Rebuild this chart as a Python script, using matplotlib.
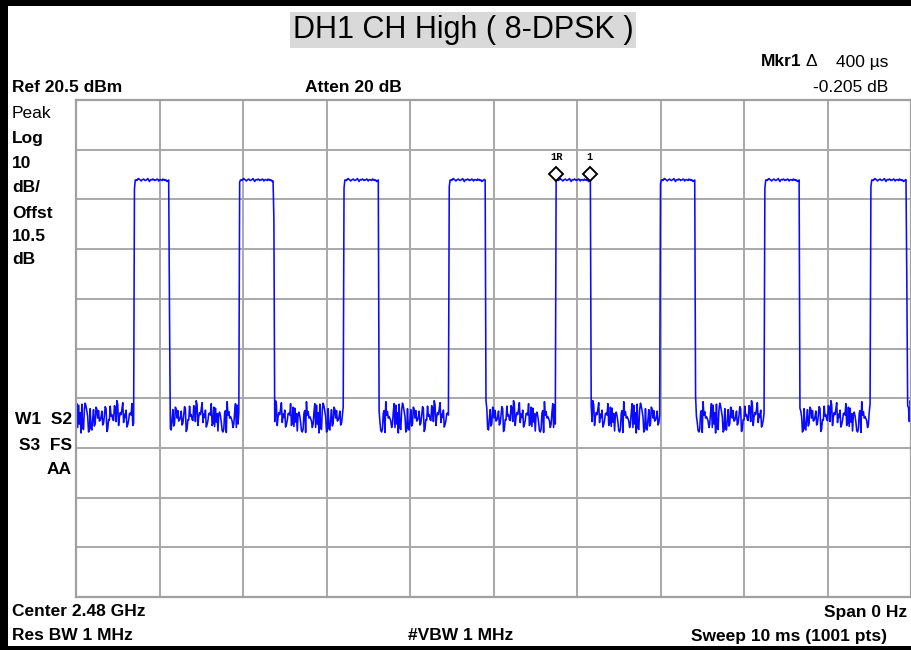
import numpy as np
import matplotlib
matplotlib.use('Agg')
import matplotlib.pyplot as plt
import matplotlib.transforms as mtransforms
from matplotlib.patches import Rectangle

W, H = 912, 650

# sweep setup
ref_level = 20.5
db_per_div = 10
sweep_ms = 10
n_pts = 1001

# burst timing (ms)
rise_ms = [0.70, 1.96, 3.21, 4.47, 5.75, 7.00, 8.25, 9.52]
fall_ms = [1.12, 2.37, 3.63, 4.91, 6.17, 7.42, 8.67, 9.95]
top_dbm = 4.4
rise_step_dbm = [2.6, 4.0, 2.8, 3.0, 4.2, 3.6, 2.7, 3.1]
fall_step_dbm = [-23.0, -3.5, -42.0, -40.0, -41.0, -39.0, -41.5, -16.0]
floor_dbm = -43.5

# ripple on the burst tops (dB)
top_ripple = [0.1, 0.0, 0.0, -0.1, 0.2, 0.3, 0.1, 0.0, -0.2, 0.0, 0.1, 0.2,
              0.0, -0.1, 0.0, 0.1, 0.3, 0.0, -0.3, 0.0, 0.1, 0.0, 0.2, 0.1,
              -0.1, 0.0, 0.0, 0.2, 0.1, -0.2, 0.0, 0.1, 0.0, -0.1, 0.2, 0.0,
              0.1, -0.1, 0.0, -0.3, -0.2, 0.0, 0.1, 0.0]

# noise floor deviation (dB)
floor_noise = [1.2, -1.5, 2.4, 0.3, -2.2, 1.8, -0.6, 2.9, -1.1, 0.4, -2.8, 1.0,
               3.1, -0.4, -1.9, 2.2, 0.7, -2.5, 1.5, -0.9, 0.2, 2.6, -1.7, -0.3,
               1.9, -2.9, 0.8, 1.4, -1.2, 2.0, -0.5, -2.1, 3.3, 0.1, -1.4, 1.1,
               -0.8, 2.5, -2.4, 0.6, 1.6, -1.0, -3.0, 0.9, 2.1, -0.2, 1.3, -1.8,
               0.5, 2.8, -2.6, -0.7, 1.7, 0.0, -1.3, 2.3, -2.0, 0.8, 3.5, -1.6,
               0.3, -0.5, 1.9, -2.3, 1.2, 2.7, -1.1, -0.1, 0.9, -2.7, 1.6, 0.4,
               -1.5, 2.2, -0.6, 1.0, -2.2, 3.0, -0.8, 0.2, 1.8, -1.9, 0.6, -0.3,
               2.4, -2.5, 1.1, 0.0, -1.2, 2.9, -0.4, 1.4, -2.8, 0.7, 1.5]

t = np.linspace(0, sweep_ms, n_pts)
trace = np.array([floor_dbm + floor_noise[(i * 7) % len(floor_noise)]
                  for i in range(n_pts)])
for k, (r, f) in enumerate(zip(rise_ms, fall_ms)):
    i0 = int(round(r / 0.01))
    i1 = int(round(f / 0.01))
    trace[i0] = rise_step_dbm[k]
    for j in range(i0 + 1, i1):
        trace[j] = top_dbm + top_ripple[(j - i0) % len(top_ripple)]
    trace[i1] = fall_step_dbm[k]

# delta marker pair
mkr_ref_ms = 5.75
mkr_delta_ms = 6.15

plt.rcParams['font.family'] = ['Liberation Sans', 'DejaVu Sans']

fig = plt.figure(figsize=(W / 100, H / 100), dpi=100)
fig.patch.set_facecolor('white')


def px(x, y):
    return x / W, 1 - y / H


ax = fig.add_axes([76 / W, 1 - 597 / H, 835 / W, 497 / H])
ax.plot(t, trace, color='#0a0aff', lw=1.15)
ax.set_xlim(0, sweep_ms)
ax.set_ylim(ref_level - 10 * db_per_div, ref_level)
ax.set_xticks(np.arange(0, sweep_ms + 1, 1))
ax.set_yticks(np.arange(ref_level - 10 * db_per_div, ref_level + 1, db_per_div))
ax.tick_params(length=0, labelbottom=False, labelleft=False)
ax.grid(True, color='#a8a8a8', lw=1.4)
ax.set_axisbelow(True)
for s in ax.spines.values():
    s.set_color('#a0a0a0')
    s.set_linewidth(1.6)

# markers sit a little above the trace
mk_off = mtransforms.offset_copy(ax.transData, fig=fig, x=0, y=5, units='points')
lb_off = mtransforms.offset_copy(ax.transData, fig=fig, x=0, y=17, units='points')
for m, lab in [(mkr_ref_ms, '1R'), (mkr_delta_ms, '1')]:
    yv = trace[int(round(m / 0.01))]
    ax.plot([m], [yv], marker='D', ms=7, mfc='white', mec='black', mew=1.4,
            transform=mk_off, clip_on=False)
    ax.text(m, yv, lab, transform=lb_off, ha='center', va='center',
            fontsize=7.5, family=['Liberation Mono', 'DejaVu Sans Mono'],
            fontweight='bold')

# title box
fig.text(*px(463, 30), 'DH1 CH High ( 8-DPSK )', ha='center', va='center',
         fontsize=22, color='black',
         bbox=dict(boxstyle='square,pad=0.1', fc='#d9d9d9', ec='none'))

fs = 12.5
bold = dict(fontweight='bold', fontsize=fs, va='center')
fig.text(*px(802, 62), 'Mkr1', ha='right', **bold)
fig.text(*px(806, 62), 'Δ', ha='left', fontsize=fs, va='center')
fig.text(*px(888, 62), '400 µs', ha='right', fontsize=fs, va='center')
fig.text(*px(12, 88), 'Ref 20.5 dBm', ha='left', **bold)
fig.text(*px(305, 88), 'Atten 20 dB', ha='left', **bold)
fig.text(*px(888, 88), '-0.205 dB', ha='right', fontsize=fs, va='center')

fig.text(*px(12, 113), 'Peak', ha='left', fontsize=fs, va='center')
for lab, y in [('Log', 138), ('10', 163), ('dB/', 188), ('Offst', 213),
               ('10.5', 237), ('dB', 260)]:
    fig.text(*px(12, y), lab, ha='left', **bold)
fig.text(*px(72, 420), 'W1  S2', ha='right', **bold)
fig.text(*px(72, 445), 'S3  FS', ha='right', **bold)
fig.text(*px(72, 469), 'AA', ha='right', **bold)

fig.text(*px(12, 612), 'Center 2.48 GHz', ha='left', **bold)
fig.text(*px(907, 612), 'Span 0 Hz', ha='right', **bold)
fig.text(*px(12, 636), 'Res BW 1 MHz', ha='left', **bold)
fig.text(*px(408, 636), '#VBW 1 MHz', ha='left', **bold)
fig.text(*px(887, 636), 'Sweep 10 ms (1001 pts)', ha='right', **bold)

# black frame of the screen capture
for x0, y0, w, h in [(0, 0, 8, H), (0, 0, W, 6), (0, H - 4, W, 4)]:
    fig.patches.append(Rectangle((x0 / W, 1 - (y0 + h) / H), w / W, h / H,
                                 transform=fig.transFigure, fc='black',
                                 ec='none', zorder=10))

fig.savefig('out.png', dpi=100)
